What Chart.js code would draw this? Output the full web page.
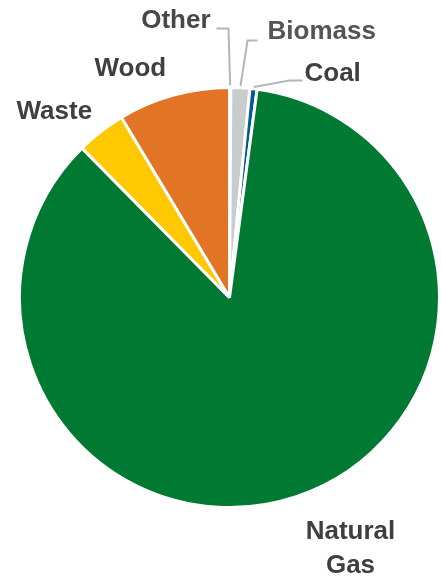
<!DOCTYPE html>
<html>
<head>
<meta charset="utf-8">
<script src="https://cdn.jsdelivr.net/npm/chart.js@4.4.1/dist/chart.umd.min.js"></script>
<style>
html,body{margin:0;padding:0;background:#fff;}
#wrap{width:441px;height:579px;position:relative;}
</style>
</head>
<body>
<div id="wrap"><canvas id="c"></canvas></div>
<script>
const categories = ["Other", "Biomass", "Coal", "Natural Gas", "Waste", "Wood"];
const shares = [0.1, 1.45, 0.55, 85.5, 3.8, 8.6];
const colors = ["#C8CCCC", "#C8CCCC", "#005A8B", "#007A33", "#FFC800", "#E17425"];
const labelLines = [["Other"], ["Biomass"], ["Coal"], ["Natural", "Gas"], ["Waste"], ["Wood"]];
const labelColors = ["#474747", "#555555", "#3f3f3f", "#3f3f3f", "#3f3f3f", "#3f3f3f"];

// label layout: text anchor offsets from pie centre (px), alignment, and leader elbows
const labelLayout = [
  {dx: -19, dy: -269.5, align: "right", leader: [[-1, -269], [-13, -269]]},
  {dx: 38, dy: -258.5, align: "left", leader: [[18, -257], [28, -257]]},
  {dx: 75, dy: -216.5, align: "left", leader: [[60, -217], [73, -217]]},
  {dx: 121, dy: 241.5, align: "center", lineGap: 34},
  {dx: -213, dy: -178.5, align: "left"},
  {dx: -135, dy: -221.5, align: "left"}
];

const labelPlugin = {
  id: "pieLabels",
  afterDatasetsDraw(chart) {
    const ctx = chart.ctx;
    const meta = chart.getDatasetMeta(0);
    ctx.save();
    ctx.font = "bold 26px 'Liberation Sans', Arial, sans-serif";
    meta.data.forEach((arc, i) => {
      const p = arc.getProps(["x", "y", "startAngle", "endAngle", "outerRadius"], true);
      const L = labelLayout[i];
      if (L.leader) {
        const mid = (p.startAngle + p.endAngle) / 2;
        const r = p.outerRadius + 2;
        ctx.strokeStyle = "#B5B5B5";
        ctx.lineWidth = 2;
        ctx.beginPath();
        ctx.moveTo(p.x + Math.cos(mid) * r, p.y + Math.sin(mid) * r);
        L.leader.forEach(pt => ctx.lineTo(p.x + pt[0], p.y + pt[1]));
        ctx.stroke();
      }
      ctx.fillStyle = labelColors[i];
      ctx.textAlign = L.align;
      ctx.textBaseline = "alphabetic";
      labelLines[i].forEach((t, k) => {
        ctx.fillText(t, p.x + L.dx, p.y + L.dy + k * (L.lineGap || 0));
      });
    });
    ctx.restore();
  }
};

new Chart(document.getElementById("c"), {
  type: "pie",
  data: {
    labels: categories,
    datasets: [{
      data: shares,
      backgroundColor: colors,
      borderColor: "#ffffff",
      borderWidth: 3
    }]
  },
  options: {
    responsive: true,
    maintainAspectRatio: false,
    animation: false,
    events: [],
    layout: {padding: {left: 18, right: 0, top: 86, bottom: 70}},
    plugins: {legend: {display: false}, tooltip: {enabled: false}}
  },
  plugins: [labelPlugin]
});
</script>
</body>
</html>
